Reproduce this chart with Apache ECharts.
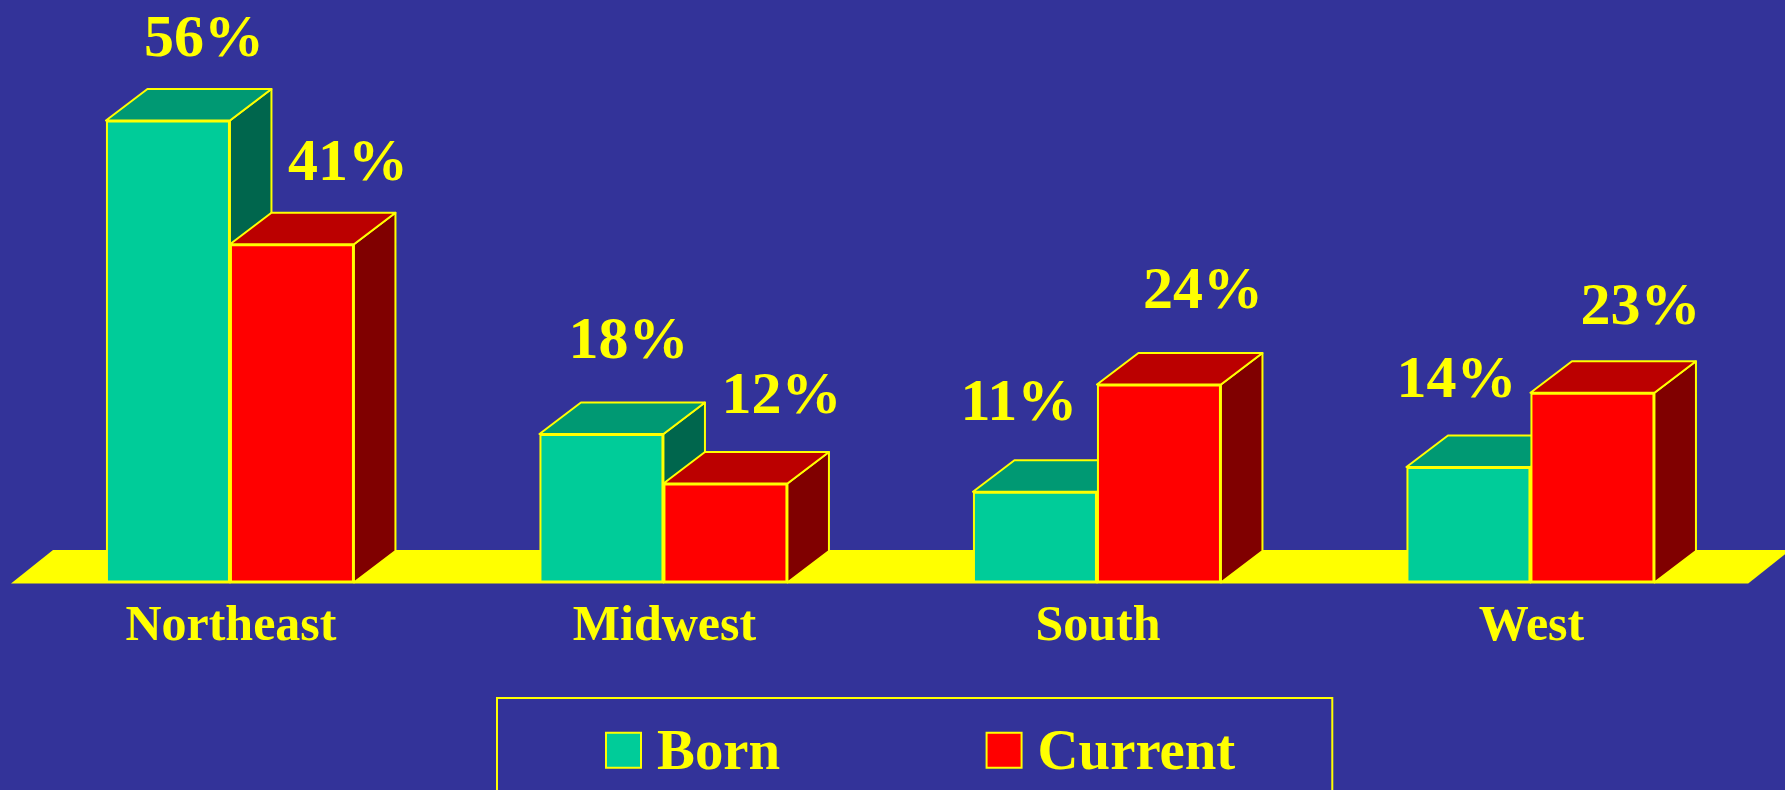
<!DOCTYPE html>
<html>
<head>
<meta charset="utf-8">
<style>html,body{margin:0;padding:0;background:#333399;overflow:hidden}#c{width:1785px;height:790px}</style>
<script src="https://cdn.jsdelivr.net/npm/echarts@6/dist/echarts.min.js"></script>
</head>
<body>
<div id="c"></div>
<script>
const categories = ['Northeast', 'Midwest', 'South', 'West'];
const born = [56, 18, 11, 14];
const current = [41, 12, 24, 23];

// Hand-placed percentage labels: [horizontal shift, gap from bar top to text baseline]
const bornLabelPlace = [[36, 64], [27, 76], [-16, 71], [-12, 70]];
const currentLabelPlace = [[56, 64], [56, 70], [44, 76], [48, 68]];

const INK = '#FFFF00', FONT = '"Liberation Serif", "Times New Roman", serif';
const BAR_W = 124, DX = 41.5, DY = 31.5, EDGE = 2;

function depthSeries(name, values, side, topColor, barShift, z) {
  return {
    type: 'custom', name, z, silent: true, clip: false,
    data: values.map((v, i) => [i, v]),
    encode: { x: 0, y: 1 },
    renderItem(params, api) {
      const top = api.coord([api.value(0), api.value(1)]);
      const base = api.coord([api.value(0), 0]);
      const x0 = top[0] + barShift * BAR_W, x1 = x0 + BAR_W, yt = top[1], yb = base[1];
      const style = { stroke: INK, lineWidth: EDGE, lineJoin: 'round' };
      return {
        type: 'group',
        children: [
          { type: 'polygon', shape: { points: [[x1, yt], [x1 + DX, yt - DY], [x1 + DX, yb - DY], [x1, yb]] },
            style: Object.assign({ fill: side }, style) },
          { type: 'polygon', shape: { points: [[x0, yt], [x0 + DX, yt - DY], [x1 + DX, yt - DY], [x1, yt]] },
            style: Object.assign({ fill: topColor }, style) }
        ]
      };
    }
  };
}

function barSeries(name, values, color, place, z) {
  return {
    type: 'bar', name, z, barWidth: BAR_W, barGap: '0%',
    itemStyle: { color, borderColor: INK, borderWidth: EDGE },
    data: values.map((v, i) => ({
      value: v,
      label: { offset: [place[i][0], 13 - place[i][1]] }
    })),
    label: {
      show: true, position: 'top', distance: 0,
      formatter: '{c}%', color: INK, fontFamily: FONT, fontWeight: 'bold',
      fontSize: 60, lineHeight: 58
    }
  };
}

const chart = echarts.init(document.getElementById('c'), null, { renderer: 'canvas', width: 1785, height: 790 });
chart.setOption({
  backgroundColor: '#333399',
  animation: false,
  grid: { left: 13.2, width: 1734, top: 87.5, height: 495, containLabel: false },
  xAxis: {
    type: 'category', data: categories,
    axisLine: { show: false }, axisTick: { show: false }, splitLine: { show: false },
    axisLabel: { color: INK, fontFamily: FONT, fontWeight: 'bold', fontSize: 50, margin: 20, interval: 0, padding: [0, 0, 0, 2] }
  },
  yAxis: { type: 'value', min: 0, max: 60, show: false },
  legend: {
    data: ['Born', 'Current'],
    left: 497, top: 698,
    orient: 'horizontal',
    padding: [19.3, 97, 160, 108],
    itemWidth: 35, itemHeight: 35, itemGap: 205.5,
    icon: 'rect',
    borderColor: INK, borderWidth: 2,
    selectedMode: false,
    itemStyle: { borderColor: INK, borderWidth: 2 },
    formatter: '{t|{name}}',
    textStyle: {
      color: INK, fontFamily: FONT, fontWeight: 'bold', fontSize: 56.8,
      rich: { t: { color: INK, fontFamily: FONT, fontWeight: 'bold', fontSize: 56.8, lineHeight: 60, padding: [9, 0, 0, 11] } }
    }
  },
  series: [
    {
      type: 'custom', name: 'floor', z: 1, silent: true, clip: false,
      data: [[0, 0]], encode: { x: 0, y: 1 },
      renderItem(params, api) {
        const cs = params.coordSys;
        const yb = api.coord([0, 0])[1] + 1;
        const xl = cs.x - 2.2, xr = cs.x + cs.width + 1;
        return { type: 'polygon',
          shape: { points: [[xl, yb], [xl + 42, yb - 33.5], [xr + 42, yb - 33.5], [xr, yb]] },
          style: { fill: INK } };
      }
    },
    depthSeries('Born depth', born, '#00664D', '#009973', -1, 2),
    barSeries('Born', born, '#00CC99', bornLabelPlace, 3),
    depthSeries('Current depth', current, '#800000', '#BB0000', 0, 4),
    barSeries('Current', current, '#FF0000', currentLabelPlace, 5)
  ]
});
</script>
</body>
</html>
